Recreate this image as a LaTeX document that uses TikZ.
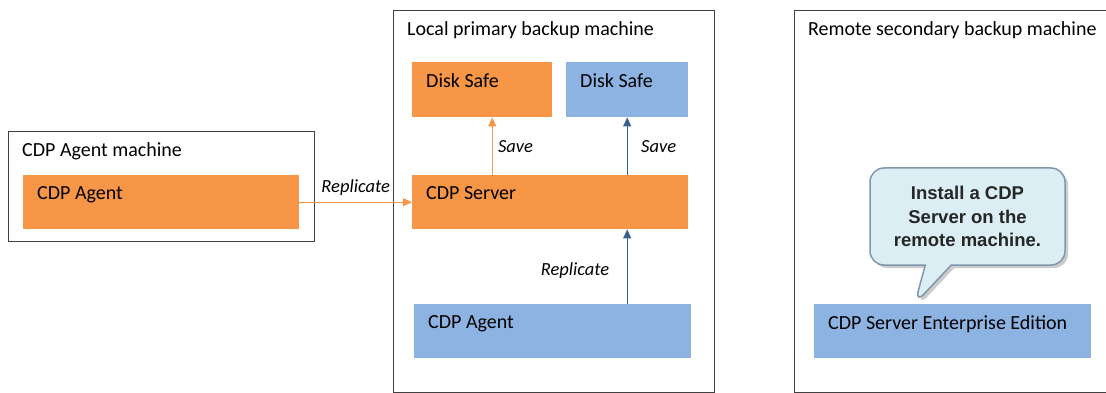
\documentclass[tikz,border=0pt]{standalone}
\usepackage{fontspec}
\setmainfont{Carlito}
\newfontfamily\tipfont{Liberation Sans}
\usepackage{xcolor}
\usetikzlibrary{arrows.meta,shapes.callouts,shadows}

\definecolor{cdp orange}{HTML}{F79646}
\definecolor{cdp blue}{HTML}{8DB3E2}
\definecolor{arrow blue}{HTML}{3A5F8F}
\definecolor{tip fill}{HTML}{DBEEF4}
\definecolor{tip border}{HTML}{8197AB}

\begin{document}
\begin{tikzpicture}[x=1pt,y=-1pt,->,>={Triangle[width=8pt,length=9pt]},
   font=\fontsize{20}{24}\selectfont,
   machine/.style={draw=black!75,line width=1.2pt,anchor=north west,inner sep=0pt},
   part/.style={anchor=north west,inner sep=0pt,minimum height=54pt},
   orange part/.style={part,fill=cdp orange},
   blue part/.style={part,fill=cdp blue},
   box title/.style={label={[anchor=north west,inner sep=0pt,xshift=14pt,yshift=-11.5pt]north west:#1}},
   orange arrow/.style={draw=cdp orange,fill=cdp orange,line width=1pt},
   blue arrow/.style={draw=arrow blue,fill=arrow blue,line width=1.2pt},
   action/.style={font=\fontsize{18.5}{22}\selectfont\itshape,text=black},
   install tip/.style={rectangle callout,rounded corners=14pt,fill=tip fill,draw=tip border,
     line width=1.5pt,drop shadow={opacity=0.4,shadow xshift=3pt,shadow yshift=-3pt},
     minimum width=195pt,minimum height=97pt,align=center,text=black!85,
     callout pointer width=26pt,font=\tipfont\bfseries\fontsize{18.5}{23.5}\selectfont}]

  \useasboundingbox (0,0) rectangle (1106,393);

  % agent machine
  \node[machine,minimum width=306pt,minimum height=110pt,box title=CDP Agent machine] (agent machine) at (8,131) {};
  \node[orange part,minimum width=276pt,box title=CDP Agent] (agent) at (23,175) {};

  % local primary backup machine
  \node[machine,minimum width=321pt,minimum height=382pt,box title=Local primary backup machine] (local machine) at (393,10) {};
  \node[orange part,minimum width=140pt,minimum height=55pt,box title=Disk Safe] (orange safe) at (412,62) {};
  \node[blue part,minimum width=122pt,minimum height=55pt,box title=Disk Safe] (blue safe) at (566,62) {};
  \node[orange part,minimum width=276pt,box title=CDP Server] (server) at (412,175) {};
  \node[blue part,minimum width=277pt,box title=CDP Agent] (local agent) at (414,304) {};

  % remote secondary backup machine
  \node[machine,minimum width=330pt,minimum height=382pt,box title=Remote secondary backup machine] (remote machine) at (794,10) {};
  \node[blue part,minimum width=277pt,box title=CDP Server Enterprise Edition] (remote server) at (814,304) {};
  \node[install tip,callout absolute pointer={([xshift=-38pt]remote server.north)}] (tip) at (967.5,216.5) {Install a CDP\\Server on the\\remote machine.};

  \draw[orange arrow] (agent.east) -- node[action,above=3pt] {Replicate} (server.west);
  \draw[orange arrow] ([xshift=10pt]orange safe.south |- server.north) -- node[action,right=2pt] {Save} ([xshift=10pt]orange safe.south);
  \draw[blue arrow] (blue safe.south |- server.north) -- node[action,right=10pt] {Save} (blue safe.south);
  \draw[blue arrow] (blue safe.south |- local agent.north) -- node[action,left=14pt,yshift=-4pt] {Replicate} (blue safe.south |- server.south);
\end{tikzpicture}
\end{document}
